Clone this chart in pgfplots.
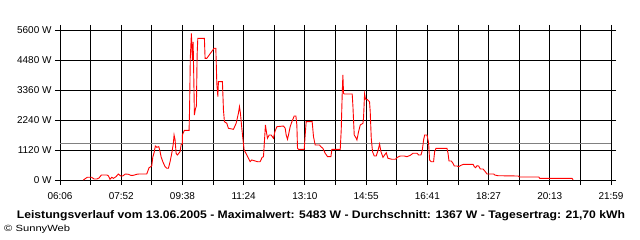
\documentclass[border=0pt]{standalone}
\usepackage{pgfplots}
\pgfplotsset{compat=1.18}
\usepackage{pgfplotstable}
\usepackage{fontspec}
\setmainfont{Liberation Sans}
\pgfplotstableread{
t W
406.4 0
413.3 101
420.9 101
424.9 37
429.6 37
433.6 75
437.6 187
446.9 187
449.7 160
452.6 26
455.6 101
458.4 63
463.0 123
467.0 224
471.2 149
474.6 149
479.1 224
484.3 213
488.5 175
493.0 175
498.9 213
502.9 224
516.2 224
520.2 459
523.2 497
524.9 534
526.6 847
528.9 1019
531.1 1269
533.6 1221
537.0 1243
539.3 1057
541.0 870
544.0 683
547.9 497
550.9 437
553.7 437
556.6 683
559.5 997
562.3 1370
563.5 1680
565.3 1493
567.0 997
569.2 933
573.9 1057
575.7 1318
577.9 1344
578.0 1691
581.4 1855
589.5 1855
590.4 2725
591.6 4555
593.5 5477
595.2 4480
596.5 5152
597.7 3733
598.7 2427
600.4 2651
602.2 2763
603.4 4667
604.6 5290
616.0 5290
617.2 4543
620.2 4543
630.6 4853
632.8 4917
635.8 4917
637.5 3610
639.3 3110
640.3 3670
647.2 3670
649.0 2613
650.7 2177
654.8 2117
657.6 1930
666.3 1893
671.0 2117
674.9 2490
676.7 2736
678.4 2490
680.8 1930
682.6 1557
684.8 1120
689.5 933
695.2 683
698.2 747
707.9 683
712.5 683
716.0 847
718.3 870
721.7 2053
722.9 1867
725.2 1557
728.1 1680
731.6 1680
735.6 1557
738.0 1803
741.5 1990
752.9 2016
755.9 1930
757.6 1680
759.9 1519
761.6 1680
764.5 1990
767.5 2177
771.5 2389
774.4 2389
776.1 2053
777.2 1183
778.9 1146
788.8 1146
790.5 1680
792.2 2177
802.6 2177
804.9 1617
807.8 1307
815.3 1307
817.7 1243
821.2 1183
825.2 997
829.2 870
835.0 870
836.8 1146
851.2 1146
852.9 1867
854.6 3211
855.8 3920
856.9 3237
858.1 3211
871.9 3211
873.2 2737
875.4 1680
878.9 1557
880.1 1493
882.9 1803
885.8 2053
890.5 2117
891.5 2303
893.3 3211
895.0 3013
897.4 3013
901.9 2923
903.1 2550
904.9 1557
907.1 1057
910.1 896
913.5 896
916.5 1094
919.3 1344
921.7 1057
925.2 847
928.0 933
930.9 1019
933.8 810
940.7 773
946.5 773
950.4 847
955.1 896
962.1 896
966.7 870
972.5 922
977.2 997
984.1 997
986.9 933
991.0 933
993.3 1120
995.5 1493
997.3 1680
1001.4 1680
1003.2 1493
1004.2 1370
1005.9 747
1008.8 683
1012.8 683
1014.6 1057
1017.0 1183
1036.0 1183
1037.8 997
1039.5 709
1043.5 709
1046.4 623
1048.7 523
1053.4 523
1056.1 497
1060.3 549
1064.8 586
1081.1 586
1083.3 497
1085.6 459
1088.0 534
1090.8 523
1093.7 411
1098.4 411
1102.4 310
1105.3 224
1109.9 224
1116.8 224
1118.5 187
1124.4 160
1159.6 149
1161.3 112
1195.1 112
1196.5 63
1252.6 63
1254.3 0
}\powerdata
\begin{document}
\begin{tikzpicture}
\path[use as bounding box] (-60bp,-60bp) rectangle (580bp,180bp);
\begin{axis}[
  at={(0,0)}, anchor=south west,
  scale only axis, width=551bp, height=150bp,
  xmin=366, xmax=1320, ymin=0, ymax=5600,
  xtick={366,472,578,684,790,896,1002,1108,1214,1320},
  xticklabels={06:06,07:52,09:38,11:24,13:10,14:55,16:41,18:27,20:13,21:59},
  minor x tick num=1,
  ytick={0,1120,2240,3360,4480,5600},
  yticklabels={0 W,1120 W,2240 W,3360 W,4480 W,5600 W},
  grid=both,
  major grid style={black, line width=0.8bp},
  minor grid style={black, line width=0.8bp},
  axis line style={black, line width=0.8bp},
  tick align=outside,
  major tick length=5bp, minor tick length=5bp,
  tick style={black, line width=0.8bp},
  every tick label/.style={font=\fontsize{10}{11}\selectfont},
  xticklabel style={yshift=-4bp},
  clip=false,
]
\addplot[color={rgb,255:red,128;green,128;blue,128}, line width=0.8bp] coordinates {(366,1367) (1320,1367)};
\addplot[red, line width=0.9bp] table[x=t, y=W] {\powerdata};
\end{axis}
\node[font=\bfseries\fontsize{11}{12}\selectfont] at (261bp,-36bp) {\scalebox{1.11}[1]{Leistungsverlauf vom 13.06.2005 - Maximalwert: 5483 W - Durchschnitt: 1367 W - Tagesertrag: 21,70 kWh}};
\node[anchor=west, font=\fontsize{9}{10}\selectfont, inner sep=0pt] at (-56bp,-49bp) {\scalebox{1.25}[1]{© SunnyWeb}};
\end{tikzpicture}
\end{document}
